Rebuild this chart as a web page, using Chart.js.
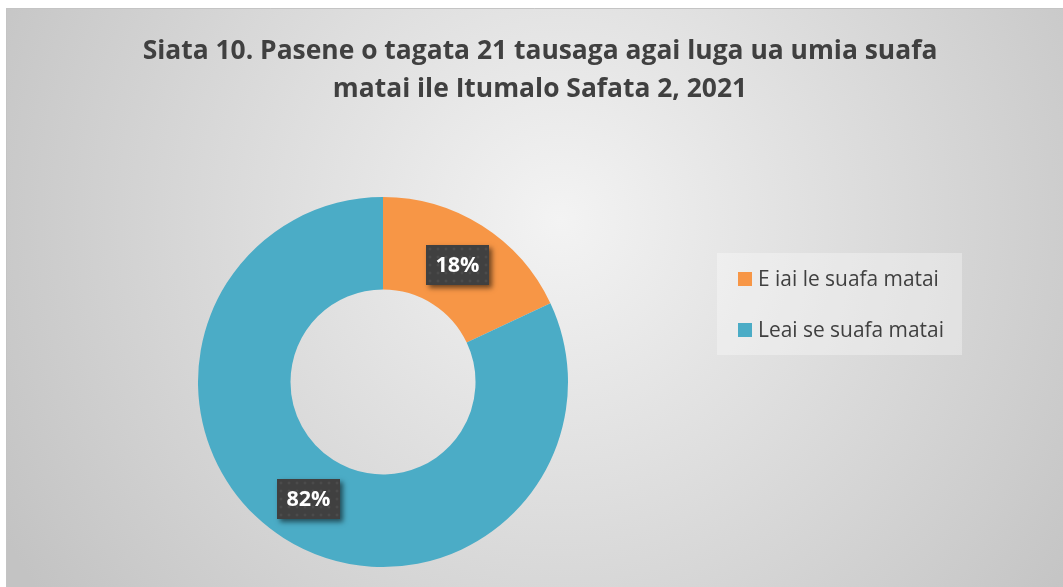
<!DOCTYPE html>
<html><head><meta charset="utf-8">
<script src="https://cdn.jsdelivr.net/npm/chart.js@4"></script>
<style>html,body{margin:0;padding:0;background:#fff}#wrap{width:1063px;height:587px}</style>
</head><body><div id="wrap"><canvas id="c" width="1063" height="587"></canvas></div>
<script>
const categories = ["E iai le suafa matai", "Leai se suafa matai"];
const values = [18, 82];
const valueLabels = ["18%", "82%"];
const colors = ["#F79646", "#4BACC6"];
const titleLines = ["Siata 10. Pasene o tagata 21 tausaga agai luga ua umia suafa", "matai ile Itumalo Safata 2, 2021"];

const FONT = '"Open Sans", "DejaVu Sans", sans-serif';

function fitFont(ctx, text, weight, size, target) {
  ctx.font = weight + ' ' + size + 'px ' + FONT;
  const w = ctx.measureText(text).width;
  const s = size * target / w;
  return weight + ' ' + s.toFixed(2) + 'px ' + FONT;
}

const bgPlugin = {
  id: 'bg',
  beforeDraw(chart) {
    const ctx = chart.ctx;
    ctx.save();
    ctx.fillStyle = '#ffffff';
    ctx.fillRect(0, 0, chart.width, chart.height);
    const g = ctx.createRadialGradient(560, 220, 0, 560, 220, 640);
    g.addColorStop(0, '#f3f3f3');
    g.addColorStop(1, '#c3c3c3');
    ctx.fillStyle = g;
    ctx.fillRect(6, 8, chart.width - 6, chart.height - 8);
    ctx.strokeStyle = '#c4c4c4';
    ctx.lineWidth = 1;
    ctx.beginPath();
    ctx.moveTo(6.5, chart.height);
    ctx.lineTo(6.5, 8.5);
    ctx.lineTo(chart.width, 8.5);
    ctx.stroke();
    ctx.restore();
  },
  afterDraw(chart) {
    const ctx = chart.ctx;
    ctx.save();
    // title
    ctx.fillStyle = '#404040';
    ctx.textAlign = 'center';
    ctx.textBaseline = 'middle';
    const f = fitFont(ctx, titleLines[0], 'bold', 24, 795);
    ctx.font = f;
    ctx.fillText(titleLines[0], 540, 51);
    ctx.fillText(titleLines[1], 540, 89);

    // legend
    ctx.fillStyle = 'rgba(255,255,255,0.32)';
    ctx.fillRect(717, 253, 245, 102);
    const lf = fitFont(ctx, categories[0], 'normal', 18, 181);
    ctx.font = lf;
    ctx.textAlign = 'left';
    categories.forEach((c, i) => {
      const y = 279 + i * 51;
      ctx.fillStyle = chart.data.datasets[0].backgroundColor[i];
      ctx.fillRect(738, y - 7, 14, 14);
      ctx.fillStyle = '#404040';
      ctx.fillText(c, 758, y + 1);
    });

    // data labels
    const meta = chart.getDatasetMeta(0);
    meta.data.forEach((arc, i) => {
      const p = arc.tooltipPosition();
      const bw = 63, bh = 40;
      const x = Math.round(p.x - bw / 2), y = Math.round(p.y - bh / 2);
      ctx.save();
      ctx.shadowColor = 'rgba(0,0,0,0.55)';
      ctx.shadowBlur = 5;
      ctx.shadowOffsetX = 3;
      ctx.shadowOffsetY = 3;
      ctx.fillStyle = '#404040';
      ctx.fillRect(x, y, bw, bh);
      ctx.restore();
      ctx.fillStyle = 'rgba(255,255,255,0.06)';
      for (let dx = 4; dx < bw; dx += 8) for (let dy = 4; dy < bh; dy += 8) {
        ctx.beginPath(); ctx.arc(x + dx, y + dy, 1.5, 0, Math.PI * 2); ctx.fill();
      }
      ctx.fillStyle = '#ffffff';
      ctx.textAlign = 'center';
      ctx.font = fitFont(ctx, valueLabels[i], 'bold', 22, 44);
      ctx.fillText(valueLabels[i], x + bw / 2, y + bh / 2 + 1);
    });
    ctx.restore();
  }
};

new Chart(document.getElementById('c'), {
  type: 'doughnut',
  data: {
    labels: categories,
    datasets: [{
      data: values,
      backgroundColor: colors,
      borderWidth: 0
    }]
  },
  options: {
    responsive: false,
    animation: false,
    cutout: '50%',
    layout: { padding: { left: 198, right: 495, top: 197, bottom: 20 } },
    plugins: {
      legend: { display: false },
      title: { display: false },
      tooltip: { enabled: false }
    }
  },
  plugins: [bgPlugin]
});
</script>
</body></html>
